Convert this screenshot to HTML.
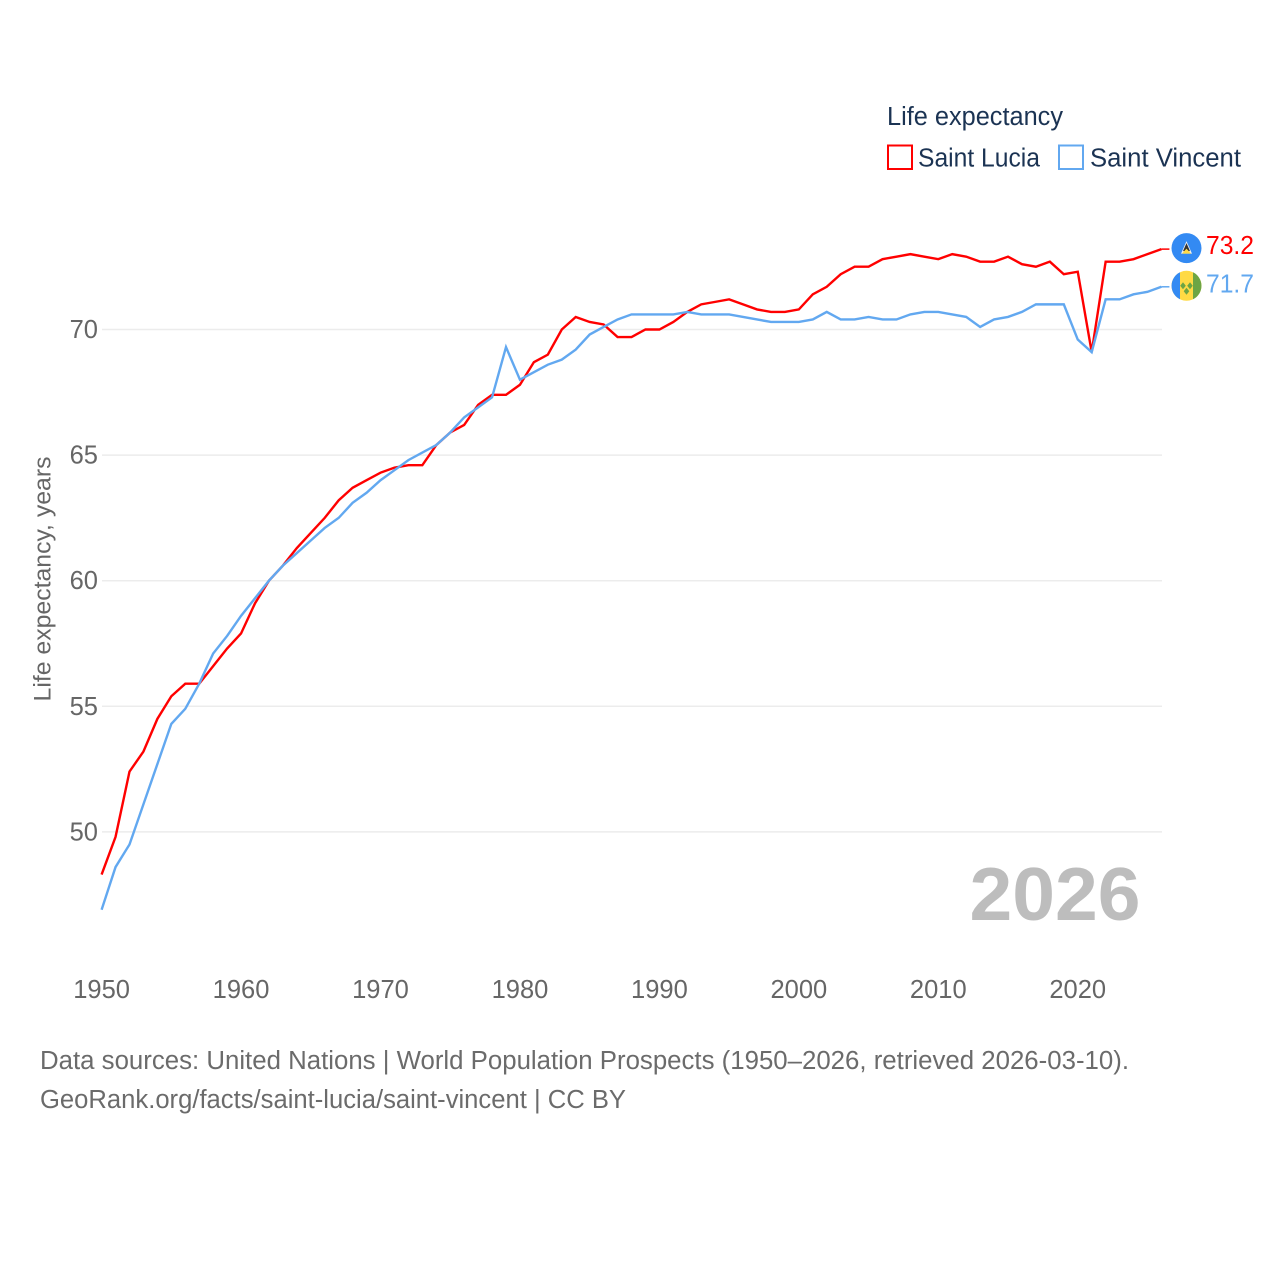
<!DOCTYPE html>
<html lang="en">
<head>
<meta charset="utf-8">
<title>Life expectancy: Saint Lucia and Saint Vincent</title>
<style>
html,body{margin:0;padding:0;background:#fff}
svg{display:block}
text{font-family:"Liberation Sans",sans-serif}
</style>
</head>
<body>
<svg id="chart" xmlns="http://www.w3.org/2000/svg" width="1280" height="1280" viewBox="0 0 1280 1280">
  <rect x="0" y="0" width="1280" height="1280" fill="#fff"/>
  <g id="grid"></g>
  <g id="yticks"></g>
  <g id="xticks"></g>
  <text transform="translate(50.5,579) rotate(-90)" text-anchor="middle" font-size="24.5" fill="#666" textLength="245" lengthAdjust="spacingAndGlyphs">Life expectancy, years</text>
  <text x="969.5" y="920" font-size="75" font-weight="700" fill="#bdbdbd" textLength="171" lengthAdjust="spacingAndGlyphs">2026</text>

  <g>
    <text x="887" y="125" font-size="25.5" fill="#1b3353" textLength="176" lengthAdjust="spacingAndGlyphs">Life expectancy</text>
    <g>
      <rect x="888" y="145.5" width="24" height="23.5" fill="none" stroke="#ff0000" stroke-width="2"/>
      <text x="918" y="166.5" font-size="25.5" fill="#1b3353" textLength="122" lengthAdjust="spacingAndGlyphs">Saint Lucia</text>
    </g>
    <g>
      <rect x="1059" y="145.5" width="24" height="23.5" fill="none" stroke="#62a8f0" stroke-width="2"/>
      <text x="1090" y="166.5" font-size="25.5" fill="#1b3353" textLength="151" lengthAdjust="spacingAndGlyphs">Saint Vincent</text>
    </g>
  </g>

  <g id="series"></g>
  <g id="endmarks"></g>

  <text x="40" y="1069" font-size="25.5" fill="#6b6b6b" textLength="1089" lengthAdjust="spacingAndGlyphs">Data sources: United Nations | World Population Prospects (1950–2026, retrieved 2026-03-10).</text>
  <text x="40" y="1108" font-size="25.5" fill="#6b6b6b" textLength="586" lengthAdjust="spacingAndGlyphs">GeoRank.org/facts/saint-lucia/saint-vincent | CC BY</text>
</svg>

<script>
const startYear = 1950;
const xTickLabels = [1950, 1960, 1970, 1980, 1990, 2000, 2010, 2020];
const yTickLabels = [50, 55, 60, 65, 70];
const saintLuciaValues = [
  48.3, 49.8, 52.4, 53.2, 54.5, 55.4, 55.9, 55.9, 56.6, 57.3,
  57.9, 59.1, 60.0, 60.6, 61.3, 61.9, 62.5, 63.2, 63.7, 64.0,
  64.3, 64.5, 64.6, 64.6, 65.4, 65.9, 66.2, 67.0, 67.4, 67.4,
  67.8, 68.7, 69.0, 70.0, 70.5, 70.3, 70.2, 69.7, 69.7, 70.0,
  70.0, 70.3, 70.7, 71.0, 71.1, 71.2, 71.0, 70.8, 70.7, 70.7,
  70.8, 71.4, 71.7, 72.2, 72.5, 72.5, 72.8, 72.9, 73.0, 72.9,
  72.8, 73.0, 72.9, 72.7, 72.7, 72.9, 72.6, 72.5, 72.7, 72.2,
  72.3, 69.1, 72.7, 72.7, 72.8, 73.0, 73.2
];
const saintVincentValues = [
  46.9, 48.6, 49.5, 51.1, 52.7, 54.3, 54.9, 55.9, 57.1, 57.8,
  58.6, 59.3, 60.0, 60.6, 61.1, 61.6, 62.1, 62.5, 63.1, 63.5,
  64.0, 64.4, 64.8, 65.1, 65.4, 65.9, 66.5, 66.9, 67.3, 69.3,
  68.0, 68.3, 68.6, 68.8, 69.2, 69.8, 70.1, 70.4, 70.6, 70.6,
  70.6, 70.6, 70.7, 70.6, 70.6, 70.6, 70.5, 70.4, 70.3, 70.3,
  70.3, 70.4, 70.7, 70.4, 70.4, 70.5, 70.4, 70.4, 70.6, 70.7,
  70.7, 70.6, 70.5, 70.1, 70.4, 70.5, 70.7, 71.0, 71.0, 71.0,
  69.6, 69.1, 71.2, 71.2, 71.4, 71.5, 71.7
];

const NS = 'http://www.w3.org/2000/svg';
function xScale(year) { return 101.6 + (year - 1950) * 13.945; }
function yScale(value) { return 329.5 + (70 - value) * 25.12; }
function make(tag, parent, attrs) {
  const el = document.createElementNS(NS, tag);
  for (const k in attrs) el.setAttribute(k, attrs[k]);
  parent.appendChild(el);
  return el;
}

const grid = document.getElementById('grid');
const yticks = document.getElementById('yticks');
const xticks = document.getElementById('xticks');
const seriesGroup = document.getElementById('series');
const endmarks = document.getElementById('endmarks');

yTickLabels.forEach(function (v) {
  const line = make('line', grid, { x1: 102, x2: 1162, y1: yScale(v), y2: yScale(v), stroke: '#ececec', 'stroke-width': 1.5 });
  
  
  const t = make('text', yticks, { x: 98, y: yScale(v) + 8.5, 'text-anchor': 'end', 'font-size': 25.5, fill: '#666' });
  
  
  t.textContent = v;
});

xTickLabels.forEach(function (yr) {
  const t = make('text', xticks, { x: xScale(yr), y: 998, 'text-anchor': 'middle', 'font-size': 25.5, fill: '#666' });
  
  
  t.textContent = yr;
});

function drawLine(values, color, name) {
  const pts = values.map(function (v, i) { return xScale(startYear + i).toFixed(2) + ',' + yScale(v).toFixed(2); });
  const lastY = yScale(values[values.length - 1]);
  const lastX = xScale(startYear + values.length - 1);
  const line = make('polyline', seriesGroup, { points: pts.join(' '), fill: 'none', stroke: color, 'stroke-width': 2.4, 'stroke-linejoin': 'miter' });
  
  
  const stub = make('line', seriesGroup, { x1: lastX, x2: lastX + 8, y1: lastY, y2: lastY, stroke: color, 'stroke-width': 1.5 });
  
  
}
drawLine(saintLuciaValues, '#ff0000', 'line-saint-lucia');
drawLine(saintVincentValues, '#62a8f0', 'line-saint-vincent');

function drawEndLabel(values, color, name) {
  const v = values[values.length - 1];
  const t = make('text', endmarks, { x: 1206, y: yScale(v) + 5 + (name === 'saint-lucia' ? 0 : 0.5), 'font-size': 25.5, fill: color, textLength: 48, lengthAdjust: 'spacingAndGlyphs' });
  
  
  t.textContent = v.toFixed(1);
}
drawEndLabel(saintLuciaValues, '#ff0000', 'saint-lucia');
drawEndLabel(saintVincentValues, '#62a8f0', 'saint-vincent');

const luciaY = yScale(saintLuciaValues[saintLuciaValues.length - 1]) - 1;
const luciaFlag = make('g', endmarks, { transform: 'translate(1186.5,' + luciaY + ')' });


make('circle', luciaFlag, { r: 15, fill: '#338af3' });
make('polygon', luciaFlag, { points: '0,-7 5.5,5.5 -5.5,5.5', fill: '#f0f0f0' });
make('polygon', luciaFlag, { points: '0,-5 3.5,3 -3.5,3', fill: '#333' });
make('polygon', luciaFlag, { points: '0,0.5 4.5,5.5 -4.5,5.5', fill: '#ffda44' });

const vincentY = yScale(saintVincentValues[saintVincentValues.length - 1]) - 1;
const vincentFlag = make('g', endmarks, { transform: 'translate(1186.5,' + vincentY + ')' });


make('circle', vincentFlag, { r: 15, fill: '#ffda44' });
make('path', vincentFlag, { d: 'M-6.5,-13.5 A15,15 0 0 0 -6.5,13.5 Z', fill: '#338af3' });
make('path', vincentFlag, { d: 'M6.5,-13.5 A15,15 0 0 1 6.5,13.5 Z', fill: '#6da544' });
make('polygon', vincentFlag, { points: '-3.5,-3.5 -0.7,0 -3.5,3.5 -6.3,0', fill: '#6da544' });
make('polygon', vincentFlag, { points: '3.5,-3.5 6.3,0 3.5,3.5 0.7,0', fill: '#6da544' });
make('polygon', vincentFlag, { points: '0,2 2.8,5.5 0,9 -2.8,5.5', fill: '#6da544' });
</script>
</body>
</html>
